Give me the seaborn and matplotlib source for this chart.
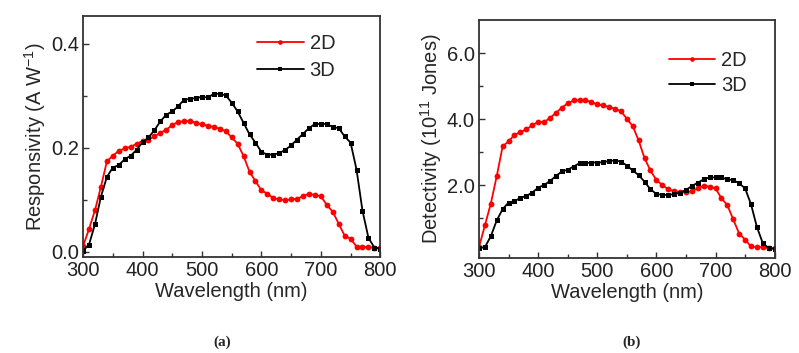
import numpy as np
import pandas as pd
import matplotlib
matplotlib.use("Agg")
import matplotlib.pyplot as plt
import seaborn as sns

# Wavelength grid (nm)
wavelength = list(range(300, 801, 10))

# Responsivity (A/W)
resp_2d = [0.011, 0.044, 0.080, 0.125, 0.174, 0.185, 0.194, 0.199, 0.202, 0.208,
           0.213, 0.216, 0.222, 0.229, 0.235, 0.244, 0.250, 0.251, 0.252, 0.248,
           0.245, 0.243, 0.240, 0.237, 0.232, 0.220, 0.208, 0.184, 0.154, 0.136,
           0.118, 0.112, 0.103, 0.101, 0.099, 0.101, 0.102, 0.107, 0.112, 0.109,
           0.107, 0.090, 0.077, 0.054, 0.031, 0.025, 0.010, 0.009, 0.009, 0.008,
           0.008]
resp_3d = [0.002, 0.014, 0.053, 0.106, 0.144, 0.162, 0.167, 0.178, 0.185, 0.196,
           0.211, 0.220, 0.234, 0.251, 0.264, 0.270, 0.280, 0.293, 0.294, 0.296,
           0.298, 0.297, 0.304, 0.304, 0.301, 0.287, 0.270, 0.248, 0.226, 0.210,
           0.192, 0.187, 0.187, 0.190, 0.196, 0.205, 0.216, 0.227, 0.238, 0.246,
           0.246, 0.246, 0.240, 0.238, 0.222, 0.210, 0.158, 0.079, 0.027, 0.008,
           0.006]

# Detectivity (10^11 Jones)
det_2d = [0.13, 0.79, 1.45, 2.28, 3.18, 3.33, 3.53, 3.61, 3.69, 3.82,
          3.92, 3.91, 4.04, 4.19, 4.35, 4.48, 4.57, 4.58, 4.58, 4.52,
          4.45, 4.42, 4.37, 4.32, 4.24, 4.02, 3.79, 3.36, 2.82, 2.45,
          2.16, 2.01, 1.88, 1.83, 1.79, 1.79, 1.83, 1.91, 1.99, 1.96,
          1.91, 1.61, 1.40, 0.97, 0.54, 0.36, 0.15, 0.13, 0.13, 0.10,
          0.10]
det_3d = [0.10, 0.13, 0.46, 0.94, 1.28, 1.48, 1.52, 1.62, 1.68, 1.78,
          1.93, 2.01, 2.13, 2.28, 2.42, 2.47, 2.57, 2.67, 2.67, 2.69,
          2.69, 2.70, 2.74, 2.75, 2.72, 2.60, 2.45, 2.31, 2.11, 1.88,
          1.74, 1.71, 1.71, 1.73, 1.78, 1.86, 1.98, 2.08, 2.18, 2.24,
          2.24, 2.24, 2.18, 2.16, 2.06, 1.91, 1.43, 0.74, 0.25, 0.10,
          0.08]

sns.set_style("ticks")
plt.rcParams["font.family"] = ["Liberation Sans", "DejaVu Sans"]
plt.rcParams["mathtext.fontset"] = "custom"
plt.rcParams["mathtext.rm"] = "Liberation Sans"
plt.rcParams["mathtext.it"] = "Liberation Sans:italic"
plt.rcParams["axes.edgecolor"] = "#333333"
plt.rcParams["axes.linewidth"] = 1.3

fig = plt.figure(figsize=(7.99, 3.53), dpi=100)
ax1 = fig.add_axes([0.104, 0.272, 0.372, 0.683])
ax2 = fig.add_axes([0.5995, 0.269, 0.370, 0.674])

fs = 14.5


def draw_panel(ax, y2d, y3d):
    sns.lineplot(x=wavelength, y=y2d, ax=ax, color="red", marker="o",
                 markersize=4.2, markeredgewidth=0, linewidth=1.3, label="2D")
    sns.lineplot(x=wavelength, y=y3d, ax=ax, color="black", marker="s",
                 markersize=3.6, markeredgewidth=0, linewidth=1.3, label="3D")
    ax.set_xlim(300, 800)
    ax.set_xticks([300, 400, 500, 600, 700, 800])
    ax.set_xticks([350, 450, 550, 650, 750], minor=True)
    ax.set_xlabel("Wavelength (nm)", fontsize=fs, labelpad=1)
    ax.tick_params(which="both", direction="in", colors="#333333",
                   labelcolor="#222222", labelsize=fs, width=1.0)
    ax.tick_params(which="major", length=4.5, pad=3)
    ax.tick_params(which="minor", length=3)


draw_panel(ax1, resp_2d, resp_3d)
ax1.set_ylim(-0.01, 0.454)
ax1.set_yticks([0.0, 0.2, 0.4])
ax1.set_yticklabels(["0.0", "0.2", "0.4"])
ax1.set_yticks([0.1, 0.3], minor=True)
ax1.set_ylabel("Responsivity (A W$^{-1}$)", fontsize=fs, labelpad=2)
ax1.legend(loc="upper left", bbox_to_anchor=(0.586, 0.925), frameon=False,
           fontsize=fs, handlelength=2.3, handletextpad=0.3, borderpad=0,
           borderaxespad=0, labelspacing=0.38, markerscale=0.8)

draw_panel(ax2, det_2d, det_3d)
ax2.set_ylim(-0.2, 7.0)
ax2.set_yticks([2, 4, 6])
ax2.set_yticklabels(["2.0", "4.0", "6.0"])
ax2.set_yticks([1, 3, 5], minor=True)
ax2.set_ylabel("Detectivity (10$^{11}$ Jones)", fontsize=fs, labelpad=2)
ax2.legend(loc="upper left", bbox_to_anchor=(0.642, 0.87), frameon=False,
           fontsize=fs, handlelength=2.3, handletextpad=0.3, borderpad=0,
           borderaxespad=0, labelspacing=0.3, markerscale=0.8)

fig.text(222 / 799, 1 - 342 / 353, "(a)", ha="center", va="center",
         fontsize=11, fontweight="bold", family=["Liberation Serif", "DejaVu Serif"])
fig.text(632 / 799, 1 - 342 / 353, "(b)", ha="center", va="center",
         fontsize=11, fontweight="bold", family=["Liberation Serif", "DejaVu Serif"])

fig.savefig("out.png", dpi=100)
